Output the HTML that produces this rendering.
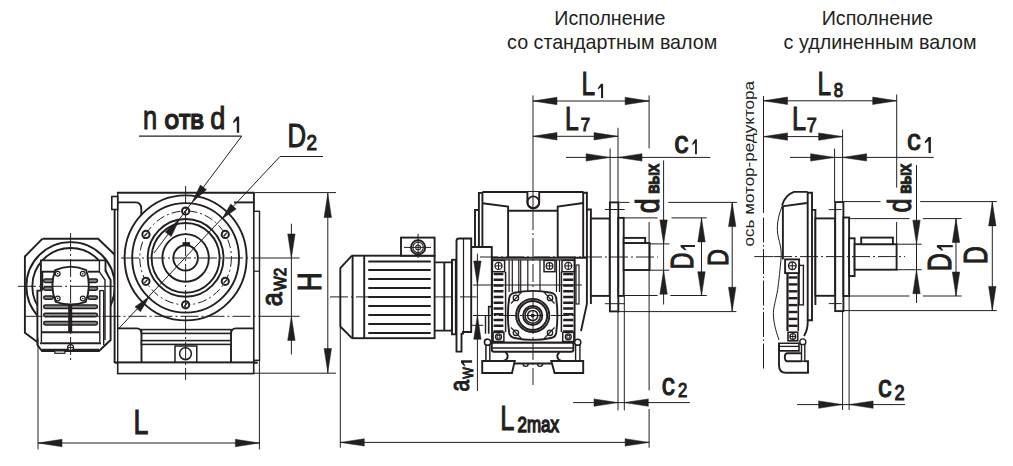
<!DOCTYPE html>
<html><head><meta charset="utf-8"><style>
html,body{margin:0;padding:0;background:#fff;width:1013px;height:466px;overflow:hidden}
svg{position:absolute;left:0;top:0}
text{font-family:"Liberation Sans",sans-serif;fill:#231f20}
</style></head><body>
<svg width="1013" height="466" viewBox="0 0 1013 466" stroke="#231f20" fill="none">
<text transform="translate(554.33,25) scale(0.9828,1)" font-size="20" stroke="none">Исполнение</text>
<text transform="translate(507.11,49.3) scale(0.9839,1)" font-size="20" stroke="none">со стандартным валом</text>
<text transform="translate(821.73,25) scale(0.9837,1)" font-size="20" stroke="none">Исполнение</text>
<text transform="translate(783.61,49.3) scale(0.9866,1)" font-size="20" stroke="none">с удлиненным валом</text>
<circle cx="70.6" cy="286.3" r="44.2" stroke-width="1.9" fill="none" />
<circle cx="70.6" cy="286.3" r="38.3" stroke-width="1.9" fill="none" />
<polyline points="42.5,238.7 98.1,238.7 114.5,254.5" stroke-width="1.9" fill="none" />
<polyline points="42.5,238.7 24.9,256.5 24.9,332.8 40,344" stroke-width="1.9" fill="none" />
<path d="M40.9,260.4 H105.5 V270.9 L110.6,280 V340 L99,351 H42 L37.4,345 V290.6 H40.9 Z" stroke-width="1.9" fill="#fff" />
<line x1="40.9" y1="271.7" x2="54" y2="271.7" stroke-width="1.9" />
<line x1="88" y1="271.7" x2="99.5" y2="271.7" stroke-width="1.9" />
<line x1="42.3" y1="271.7" x2="42.3" y2="290.6" stroke-width="1.9" />
<line x1="103.7" y1="290.6" x2="103.7" y2="345" stroke-width="1.4" />
<line x1="99.5" y1="290.6" x2="103.7" y2="290.6" stroke-width="1.4" />
<rect x="43.7" y="279.1" width="9.5" height="3.4" stroke-width="1.5" fill="#888" rx="1.7" />
<rect x="88" y="279.1" width="9.5" height="3.4" stroke-width="1.5" fill="#888" rx="1.7" />
<rect x="43.7" y="286.8" width="9.5" height="3.4" stroke-width="1.5" fill="#888" rx="1.7" />
<rect x="88" y="286.8" width="9.5" height="3.4" stroke-width="1.5" fill="#888" rx="1.7" />
<rect x="43.7" y="295.9" width="9.5" height="3.4" stroke-width="1.5" fill="#888" rx="1.7" />
<rect x="88" y="295.9" width="9.5" height="3.4" stroke-width="1.5" fill="#888" rx="1.7" />
<rect x="43.7" y="305.1" width="53.7" height="3.4" stroke-width="1.5" fill="#888" rx="1.7" />
<rect x="43.7" y="313.3" width="53.7" height="3.4" stroke-width="1.5" fill="#888" rx="1.7" />
<rect x="43.7" y="321.6" width="53.7" height="3.4" stroke-width="1.5" fill="#888" rx="1.7" />
<line x1="41.4" y1="290.6" x2="41.4" y2="342" stroke-width="1.4" />
<line x1="99.8" y1="290.6" x2="99.8" y2="342" stroke-width="1.4" />
<line x1="42" y1="332.2" x2="99" y2="332.2" stroke-width="1.9" />
<line x1="40" y1="343.3" x2="101" y2="343.3" stroke-width="1.9" />
<line x1="42" y1="349.4" x2="99" y2="349.4" stroke-width="1.2" />
<rect x="54.8" y="350.9" width="10" height="2.4" stroke-width="1.2" fill="#fff" rx="0" />
<circle cx="70.6" cy="347.6" r="3" stroke-width="1.2" fill="#fff" />
<line x1="67.6" y1="347.6" x2="73.6" y2="347.6" stroke-width="1" />
<rect x="68.8" y="304" width="2.8" height="28" stroke-width="1.2" fill="#231f20" rx="0" />
<path d="M55.2,270.2 Q70.7,263 86.3,270.2 Q91.7,286.3 85.7,301.8 Q70.7,307.2 55.7,301.8 Q49.3,286.3 55.2,270.2 Z" stroke-width="1.9" fill="#fff" />
<circle cx="57.7" cy="273.8" r="2.4" stroke-width="1.2" fill="none" />
<circle cx="57.7" cy="273.8" r="0.8" stroke-width="0" fill="#231f20" />
<circle cx="82.8" cy="273.8" r="2.4" stroke-width="1.2" fill="none" />
<circle cx="82.8" cy="273.8" r="0.8" stroke-width="0" fill="#231f20" />
<circle cx="57.7" cy="298.5" r="2.4" stroke-width="1.2" fill="none" />
<circle cx="57.7" cy="298.5" r="0.8" stroke-width="0" fill="#231f20" />
<circle cx="82.8" cy="298.5" r="2.4" stroke-width="1.2" fill="none" />
<circle cx="82.8" cy="298.5" r="0.8" stroke-width="0" fill="#231f20" />
<line x1="70.6" y1="233" x2="70.6" y2="360" stroke-width="1" stroke-dasharray="18,3,2,3"/>
<line x1="18" y1="286.3" x2="124" y2="286.3" stroke-width="1" stroke-dasharray="18,3,2,3"/>
<polyline points="99.4,260.4 99.4,271.8 105,280 105,340" stroke-width="1.4" fill="none" />
<rect x="114.6" y="193" width="143" height="170.5" stroke-width="0" fill="#fff" rx="0" stroke="none"/>
<line x1="116.9" y1="192.7" x2="254.5" y2="192.7" stroke-width="1.9" />
<line x1="114.6" y1="209.5" x2="114.6" y2="363" stroke-width="1.9" />
<line x1="117.7" y1="192.7" x2="117.7" y2="363" stroke-width="1.4" />
<rect x="111.8" y="196.5" width="5.9" height="13" stroke-width="1.6" fill="#fff" rx="0" />
<line x1="253.9" y1="192.7" x2="253.9" y2="363" stroke-width="1.9" />
<rect x="253.9" y="211.3" width="5.6" height="149" stroke-width="1.4" fill="#fff" rx="0" />
<line x1="254" y1="271.2" x2="259.5" y2="271.2" stroke-width="1.2" />
<line x1="234" y1="202.4" x2="253.9" y2="202.4" stroke-width="1.9" />
<path d="M117.7,202.4 H135.5 Q141.3,202.4 141.3,209 V215" stroke-width="1.9" fill="none" />
<g transform="translate(185.6,257.9) scale(1,1.025)">
<circle cx="0" cy="0" r="61" stroke-width="1.9" fill="none" vector-effect="non-scaling-stroke"/>
<circle cx="0" cy="0" r="53.4" stroke-width="1.9" fill="none" vector-effect="non-scaling-stroke"/>
<circle cx="0" cy="0" r="37.9" stroke-width="1.9" fill="none" vector-effect="non-scaling-stroke"/>
<circle cx="0" cy="0" r="34" stroke-width="1.9" fill="none" vector-effect="non-scaling-stroke"/>
<circle cx="0" cy="0" r="23.2" stroke-width="1.9" fill="none" vector-effect="non-scaling-stroke"/>
<circle cx="0" cy="0" r="12.3" stroke-width="1.9" fill="none" vector-effect="non-scaling-stroke"/>
<circle cx="0" cy="0" r="45.8" stroke-width="1" fill="none" stroke-dasharray="9,3,2,3" vector-effect="non-scaling-stroke"/>
</g>
<rect x="183" y="242.7" width="6.6" height="2.6" stroke-width="1" fill="#231f20" rx="0" />
<circle cx="185.6" cy="211" r="3.6" stroke-width="2" fill="#fff" />
<line x1="184" y1="212.8" x2="187.2" y2="209.2" stroke-width="1.4" />
<circle cx="145.94" cy="234.45" r="3.6" stroke-width="2" fill="#fff" />
<line x1="144.34" y1="236.25" x2="147.54" y2="232.65" stroke-width="1.4" />
<circle cx="145.94" cy="281.35" r="3.6" stroke-width="2" fill="#fff" />
<line x1="144.34" y1="283.15" x2="147.54" y2="279.55" stroke-width="1.4" />
<circle cx="185.6" cy="304.8" r="3.6" stroke-width="2" fill="#fff" />
<line x1="184" y1="306.6" x2="187.2" y2="303" stroke-width="1.4" />
<circle cx="225.26" cy="281.35" r="3.6" stroke-width="2" fill="#fff" />
<line x1="223.66" y1="283.15" x2="226.86" y2="279.55" stroke-width="1.4" />
<circle cx="225.26" cy="234.45" r="3.6" stroke-width="2" fill="#fff" />
<line x1="223.66" y1="236.25" x2="226.86" y2="232.65" stroke-width="1.4" />
<path d="M117.7,328.4 H137 Q141.5,328.4 141.5,334 V362.6" stroke-width="1.9" fill="none" />
<path d="M253.9,328.4 H236 Q231,328.4 231,334 V362.6" stroke-width="1.9" fill="none" />
<rect x="141.5" y="329.6" width="89.5" height="3.8" stroke-width="1.6" fill="#fff" rx="0" />
<rect x="141.5" y="340.6" width="89.5" height="3.8" stroke-width="1.6" fill="#fff" rx="0" />
<rect x="175" y="346" width="21.8" height="16.6" stroke-width="1.5" fill="#fff" rx="0" />
<circle cx="185.5" cy="353.7" r="5.9" stroke-width="1.6" fill="#fff" />
<line x1="114.6" y1="362.6" x2="257.7" y2="362.6" stroke-width="2.2" />
<rect x="117.7" y="362.6" width="136" height="11" stroke-width="1.6" fill="#fff" rx="0" />
<line x1="185.6" y1="186" x2="185.6" y2="380" stroke-width="1" stroke-dasharray="18,3,2,3"/>
<line x1="121" y1="258" x2="262" y2="258" stroke-width="1" stroke-dasharray="18,3,2,3"/>
<line x1="262" y1="258" x2="299.6" y2="258" stroke-width="1" />
<line x1="24.5" y1="316.3" x2="262" y2="316.3" stroke-width="1" stroke-dasharray="18,3,2,3"/>
<line x1="262" y1="316.3" x2="299.6" y2="316.3" stroke-width="1" />
<line x1="254.5" y1="192.6" x2="336" y2="192.6" stroke-width="1" />
<line x1="254" y1="373.2" x2="336" y2="373.2" stroke-width="1" />
<line x1="327.8" y1="193" x2="327.8" y2="373" stroke-width="1" />
<polygon points="327.8,193.5 331.5,217.5 324.1,217.5" fill="#231f20" stroke="#231f20" stroke-width="0.5"/>
<polygon points="327.8,372.5 324.1,348.5 331.5,348.5" fill="#231f20" stroke="#231f20" stroke-width="0.5"/>
<text transform="translate(321.35,291.34) rotate(-90) scale(0.796,1)" font-size="32.75" stroke="#231f20" stroke-width="1.1">H</text>
<line x1="291.4" y1="223.7" x2="291.4" y2="354.5" stroke-width="1" />
<polygon points="291.4,258 287.7,234 295.1,234" fill="#231f20" stroke="#231f20" stroke-width="0.5"/>
<polygon points="291.4,316.5 295.1,340.5 287.7,340.5" fill="#231f20" stroke="#231f20" stroke-width="0.5"/>
<text transform="translate(282.06,306.28) rotate(-90) scale(0.852,1)" font-size="29.45" stroke="#231f20" stroke-width="1.1">a</text>
<text transform="translate(285.65,290.73) rotate(-90) scale(0.952,1)" font-size="16.00" stroke="#231f20" stroke-width="1.1">W2</text>
<line x1="38" y1="338" x2="38" y2="449.4" stroke-width="1" />
<line x1="259.4" y1="360" x2="259.4" y2="449.4" stroke-width="1" />
<line x1="38" y1="443" x2="259.4" y2="443" stroke-width="1" />
<polygon points="38,443 62,439.3 62,446.7" fill="#231f20" stroke="#231f20" stroke-width="0.5"/>
<polygon points="259.4,443 235.4,446.7 235.4,439.3" fill="#231f20" stroke="#231f20" stroke-width="0.5"/>
<text transform="translate(133.41,434.15) scale(0.766,1)" font-size="34.93" stroke="#231f20" stroke-width="1.1">L</text>
<line x1="139" y1="136.1" x2="241.7" y2="136.1" stroke-width="1.2" />
<line x1="241.7" y1="136.1" x2="154" y2="253" stroke-width="1" />
<polygon points="192,202.6 200.36,185.12 206.44,189.68" fill="#231f20" stroke="#231f20" stroke-width="0.5"/>
<polygon points="179.6,219 171.24,236.48 165.16,231.92" fill="#231f20" stroke="#231f20" stroke-width="0.5"/>
<text transform="translate(143.00,129.15) scale(0.771,1)" font-size="32.96" stroke="#231f20" stroke-width="1.1">n</text>
<text transform="translate(164.50,128.92) scale(0.825,1)" font-size="22.68" font-weight="bold" stroke="#231f20" stroke-width="1.1">ОТВ</text>
<text transform="translate(210.27,128.83) scale(0.848,1)" font-size="31.97" stroke="#231f20" stroke-width="1.1">d</text>
<polygon points="236.8,116.5 239.2,116.5 239.2,132.7 236.8,132.7 236.8,120.55 233.2,123.14 233.2,121.2" fill="#231f20" stroke="none"/>
<line x1="280" y1="156.5" x2="323" y2="156.5" stroke-width="1.2" />
<line x1="280" y1="156.5" x2="118.9" y2="328.4" stroke-width="1" />
<polygon points="221.9,219 230.77,204.03 236.19,209.07" fill="#231f20" stroke="#231f20" stroke-width="0.5"/>
<polygon points="149.3,296.8 140.43,311.77 135.01,306.73" fill="#231f20" stroke="#231f20" stroke-width="0.5"/>
<text transform="translate(287.49,146.65) scale(0.789,1)" font-size="32.61" stroke="#231f20" stroke-width="1.1">D</text>
<text transform="translate(306.60,149.85) scale(0.882,1)" font-size="21.43" stroke="#231f20" stroke-width="1.1">2</text>
<polyline points="351.9,255.7 340.3,268.1 340.3,326.5 351.9,338.2" stroke-width="1.9" fill="none" />
<rect x="352.6" y="255.7" width="82" height="82.5" stroke-width="1.9" fill="none" rx="0" />
<line x1="364.2" y1="255.7" x2="364.2" y2="338.2" stroke-width="1.9" />
<line x1="369" y1="261.4" x2="430" y2="261.4" stroke-width="2" stroke-linecap="round"/>
<line x1="369" y1="269.9" x2="430" y2="269.9" stroke-width="2" stroke-linecap="round"/>
<line x1="369" y1="278.9" x2="430" y2="278.9" stroke-width="2" stroke-linecap="round"/>
<line x1="369" y1="287.9" x2="430" y2="287.9" stroke-width="2" stroke-linecap="round"/>
<line x1="369" y1="296.9" x2="430" y2="296.9" stroke-width="2" stroke-linecap="round"/>
<line x1="369" y1="305.9" x2="430" y2="305.9" stroke-width="2" stroke-linecap="round"/>
<line x1="369" y1="314.9" x2="430" y2="314.9" stroke-width="2" stroke-linecap="round"/>
<line x1="369" y1="323.9" x2="430" y2="323.9" stroke-width="2" stroke-linecap="round"/>
<line x1="369" y1="332.9" x2="430" y2="332.9" stroke-width="2" stroke-linecap="round"/>
<rect x="401" y="237.6" width="33.6" height="18.1" stroke-width="1.9" fill="#fff" rx="0" />
<circle cx="418.1" cy="247.4" r="7.1" stroke-width="1.9" fill="none" />
<circle cx="418.1" cy="247.4" r="5.2" stroke-width="1.1" fill="none" />
<circle cx="418.1" cy="247.4" r="2.4" stroke-width="1.1" fill="none" />
<line x1="404" y1="247.4" x2="431" y2="247.4" stroke-width="1" />
<line x1="418.1" y1="233.8" x2="418.1" y2="258" stroke-width="1" />
<path d="M434.6,262.4 H452 V330.6 H434.6" stroke-width="1.9" fill="none" />
<line x1="444.3" y1="262.4" x2="444.3" y2="330.6" stroke-width="1.9" />
<rect x="452" y="259.8" width="3.8" height="74.5" stroke-width="1.9" fill="none" rx="0" />
<path d="M456.5,351.6 V241 Q456.5,238.5 459,238.5 H471.2 V332 H463 V333.6 H461.5 V351.6 Z" stroke-width="1.9" fill="#fff" />
<line x1="463.5" y1="238.5" x2="463.5" y2="332" stroke-width="1.2" />
<path d="M471.2,247 H491.8 V315" stroke-width="1.9" fill="none" />
<path d="M471.2,325.3 H483.3" stroke-width="1" fill="none" />
<path d="M492,306.6 H488.7 V333.7" stroke-width="1.6" fill="none" />
<line x1="485.5" y1="315" x2="485.5" y2="333.7" stroke-width="1.4" />
<circle cx="487" cy="341.8" r="2.5" stroke-width="1.5" fill="none" />
<line x1="486.3" y1="344.3" x2="486.3" y2="361" stroke-width="1.5" />
<line x1="489.3" y1="344.3" x2="489.3" y2="361" stroke-width="1.5" />
<path d="M475,246 V210 H478.9" stroke-width="1.9" fill="none" />
<path d="M478.9,247 V192.9 H482.4" stroke-width="1.9" fill="none" />
<line x1="482.4" y1="192" x2="482.4" y2="247" stroke-width="1.9" />
<line x1="482.4" y1="192" x2="583.5" y2="192" stroke-width="1.9" />
<line x1="583.2" y1="192" x2="583.2" y2="258" stroke-width="1.9" />
<path d="M583.2,192.7 H586.9 V304 L581,331" stroke-width="1.9" fill="none" />
<path d="M586.9,209.5 H590.9 V304" stroke-width="1.9" fill="none" />
<path d="M482.4,203.2 L508.1,206.6 V257.5" stroke-width="1.9" fill="none" />
<path d="M583.2,203 L557.7,206.5 V257.5" stroke-width="1.9" fill="none" />
<line x1="508.1" y1="210.8" x2="557.7" y2="210.8" stroke-width="1.9" />
<path d="M527.4,192 V202.3 A5.9,5.9 0 0 0 539.2,202.3 V192" stroke-width="1.9" fill="#fff" />
<circle cx="533.3" cy="202.3" r="5.9" stroke-width="1.9" fill="none" />
<line x1="492" y1="257.8" x2="586.9" y2="257.8" stroke-width="2" />
<line x1="491.7" y1="259.8" x2="574.6" y2="259.8" stroke-width="1.2" />
<rect x="492.4" y="260.4" width="12.2" height="11.3" stroke-width="1.5" fill="#fff" rx="0" />
<circle cx="498.5" cy="265.9" r="3.5" stroke-width="1.3" fill="none" />
<line x1="495" y1="265.9" x2="502" y2="265.9" stroke-width="1" />
<line x1="498.5" y1="262.4" x2="498.5" y2="269.4" stroke-width="1" />
<line x1="505.6" y1="271.7" x2="505.6" y2="332" stroke-width="1.5" />
<line x1="493.6" y1="274" x2="503.4" y2="274" stroke-width="2.5" />
<line x1="493.6" y1="279.75" x2="503.4" y2="279.75" stroke-width="2.5" />
<line x1="493.6" y1="285.5" x2="503.4" y2="285.5" stroke-width="2.5" />
<line x1="493.6" y1="291.25" x2="503.4" y2="291.25" stroke-width="2.5" />
<line x1="493.6" y1="297" x2="503.4" y2="297" stroke-width="2.5" />
<line x1="493.6" y1="302.75" x2="503.4" y2="302.75" stroke-width="2.5" />
<line x1="493.6" y1="308.5" x2="503.4" y2="308.5" stroke-width="2.5" />
<line x1="493.6" y1="314.25" x2="503.4" y2="314.25" stroke-width="2.5" />
<line x1="493.6" y1="320" x2="503.4" y2="320" stroke-width="2.5" />
<line x1="493.6" y1="325.75" x2="503.4" y2="325.75" stroke-width="2.5" />
<line x1="493.6" y1="331.5" x2="503.4" y2="331.5" stroke-width="2.5" />
<rect x="493.1" y="332.4" width="10.8" height="9.1" stroke-width="1.5" fill="#fff" rx="0" />
<circle cx="498.5" cy="336.8" r="3" stroke-width="1.3" fill="none" />
<rect x="497.1" y="335.4" width="2.8" height="2.8" stroke-width="1" fill="none" rx="0" />
<rect x="562" y="260.4" width="12.6" height="11.3" stroke-width="1.5" fill="#fff" rx="0" />
<circle cx="568.3" cy="265.9" r="3.5" stroke-width="1.3" fill="none" />
<line x1="564.8" y1="265.9" x2="571.8" y2="265.9" stroke-width="1" />
<line x1="568.3" y1="262.4" x2="568.3" y2="269.4" stroke-width="1" />
<line x1="561.4" y1="271.7" x2="561.4" y2="332" stroke-width="1.5" />
<line x1="563.2" y1="274" x2="573.4" y2="274" stroke-width="2.5" />
<line x1="563.2" y1="279.75" x2="573.4" y2="279.75" stroke-width="2.5" />
<line x1="563.2" y1="285.5" x2="573.4" y2="285.5" stroke-width="2.5" />
<line x1="563.2" y1="291.25" x2="573.4" y2="291.25" stroke-width="2.5" />
<line x1="563.2" y1="297" x2="573.4" y2="297" stroke-width="2.5" />
<line x1="563.2" y1="302.75" x2="573.4" y2="302.75" stroke-width="2.5" />
<line x1="563.2" y1="308.5" x2="573.4" y2="308.5" stroke-width="2.5" />
<line x1="563.2" y1="314.25" x2="573.4" y2="314.25" stroke-width="2.5" />
<line x1="563.2" y1="320" x2="573.4" y2="320" stroke-width="2.5" />
<line x1="563.2" y1="325.75" x2="573.4" y2="325.75" stroke-width="2.5" />
<line x1="563.2" y1="331.5" x2="573.4" y2="331.5" stroke-width="2.5" />
<rect x="562.7" y="332.4" width="11.2" height="9.1" stroke-width="1.5" fill="#fff" rx="0" />
<circle cx="568.3" cy="336.8" r="3" stroke-width="1.3" fill="none" />
<rect x="566.9" y="335.4" width="2.8" height="2.8" stroke-width="1" fill="none" rx="0" />
<rect x="576" y="265" width="3" height="39" stroke-width="1.2" fill="none" rx="0" />
<line x1="492" y1="258" x2="492" y2="342" stroke-width="1.9" />
<line x1="574.6" y1="258" x2="574.6" y2="342" stroke-width="1.9" />
<rect x="544" y="260.4" width="11" height="11.3" stroke-width="1.5" fill="#fff" rx="0" />
<circle cx="549.5" cy="265.9" r="3.3" stroke-width="1.3" fill="none" />
<line x1="546.2" y1="265.9" x2="552.8" y2="265.9" stroke-width="1" />
<line x1="549.5" y1="262.6" x2="549.5" y2="269.2" stroke-width="1" />
<line x1="509.1" y1="260" x2="509.1" y2="292" stroke-width="1.2" />
<line x1="512.3" y1="260" x2="512.3" y2="292" stroke-width="1.2" />
<line x1="518.8" y1="260" x2="518.8" y2="292" stroke-width="1.2" />
<line x1="520.7" y1="260" x2="520.7" y2="292" stroke-width="1.2" />
<line x1="527.8" y1="260" x2="527.8" y2="292" stroke-width="1.2" />
<line x1="540" y1="260" x2="540" y2="292" stroke-width="1.2" />
<line x1="556.5" y1="260" x2="556.5" y2="292" stroke-width="1.2" />
<line x1="559.5" y1="260" x2="559.5" y2="292" stroke-width="1.2" />
<path d="M514.6,292.7 Q532.6,289 551,292.7 Q555.5,293.8 556.2,298 Q558.6,315.5 556.2,333 Q555.5,337.2 551,338 Q532.6,341.8 514.6,338 Q510,337.2 509.2,333 Q506.6,315.5 509.2,298 Q510,293.8 514.6,292.7 Z" stroke-width="1.9" fill="#fff" />
<circle cx="515.9" cy="297.9" r="2.7" stroke-width="1.3" fill="none" />
<circle cx="550" cy="297.9" r="2.7" stroke-width="1.3" fill="none" />
<circle cx="515.9" cy="332.8" r="2.7" stroke-width="1.3" fill="none" />
<circle cx="550" cy="332.8" r="2.7" stroke-width="1.3" fill="none" />
<line x1="511" y1="303.5" x2="521.5" y2="292.2" stroke-width="1.2" />
<line x1="554.5" y1="303.5" x2="544" y2="292.2" stroke-width="1.2" />
<line x1="511" y1="327.5" x2="521.5" y2="338.6" stroke-width="1.2" />
<line x1="554.5" y1="327.5" x2="544" y2="338.6" stroke-width="1.2" />
<circle cx="532.7" cy="315.5" r="16.6" stroke-width="1.9" fill="#fff" />
<circle cx="532.7" cy="315.5" r="14.5" stroke-width="1.9" fill="none" />
<circle cx="532.7" cy="315.5" r="9.6" stroke-width="1.9" fill="none" />
<circle cx="532.7" cy="315.5" r="7.7" stroke-width="1.5" fill="none" />
<circle cx="532.7" cy="315.5" r="5.1" stroke-width="1.5" fill="none" />
<circle cx="532.7" cy="315.5" r="2" stroke-width="0" fill="#231f20" />
<path d="M490.9,342.6 H573.4 V349.5 Q573.4,351.8 571,351.8 H494 Q491.8,351.8 491.8,349.5 V342.6" stroke-width="1.9" fill="#fff" />
<line x1="491.8" y1="348" x2="573.4" y2="348" stroke-width="1.5" />
<line x1="491.8" y1="342.6" x2="573.4" y2="342.6" stroke-width="1.9" />
<circle cx="487.6" cy="342.3" r="3.1" stroke-width="1.5" fill="#fff" />
<circle cx="577.7" cy="342.3" r="3.1" stroke-width="1.5" fill="#fff" />
<rect x="486" y="345.3" width="3.8" height="15.7" stroke-width="1.4" fill="#fff" rx="0" />
<rect x="575.6" y="345.3" width="4.3" height="15.7" stroke-width="1.4" fill="#fff" rx="0" />
<path d="M505.5,352.2 C508.7,354.5 508.7,359.5 503.5,361 H491" stroke-width="1.9" fill="none" />
<path d="M559.5,352.2 C556.3,354.5 556.3,359.5 561.5,361 H575.6" stroke-width="1.9" fill="none" />
<polygon points="482.2,361 514.8,361 512,373 482.2,373" stroke-width="1.9" fill="#fff" />
<polygon points="551.3,361 583.2,361 583.2,373 554.6,373" stroke-width="1.9" fill="#fff" />
<line x1="514.5" y1="363.5" x2="551.6" y2="363.5" stroke-width="1.9" />
<path d="M523,363.8 A2.6,2.6 0 0 0 528.2,363.8 M537.5,363.8 A2.6,2.6 0 0 0 542.7,363.8" stroke-width="1.4" fill="none" />
<line x1="533" y1="95.4" x2="533" y2="211" stroke-width="1" />
<line x1="533" y1="212" x2="533" y2="385" stroke-width="1" stroke-dasharray="18,3,2,3"/>
<line x1="330" y1="296.9" x2="476.6" y2="296.9" stroke-width="1" stroke-dasharray="18,3,2,3"/>
<line x1="473" y1="315.5" x2="575" y2="315.5" stroke-width="1" stroke-dasharray="18,3,2,3"/>
<rect x="590.9" y="218.5" width="18.8" height="77.4" stroke-width="1.9" fill="#fff" rx="0" />
<rect x="609.9" y="202.4" width="8.4" height="109" stroke-width="1.9" fill="#fff" rx="0" />
<rect x="618.3" y="217.9" width="5.4" height="78" stroke-width="1.9" fill="#fff" rx="0" />
<rect x="623.7" y="243" width="25.9" height="27" stroke-width="1.9" fill="#fff" rx="0" />
<rect x="623.7" y="237.9" width="21.5" height="5.1" stroke-width="1.9" fill="#fff" rx="0" />
<line x1="604.9" y1="209.5" x2="624.7" y2="209.5" stroke-width="1" />
<line x1="604.9" y1="303.7" x2="624.7" y2="303.7" stroke-width="1" />
<line x1="480" y1="257" x2="658" y2="257" stroke-width="1" stroke-dasharray="18,3,2,3"/>
<line x1="649.1" y1="95.4" x2="649.1" y2="148.4" stroke-width="1" />
<line x1="533" y1="101" x2="649.1" y2="101" stroke-width="1" />
<polygon points="533,101 557,97.3 557,104.7" fill="#231f20" stroke="#231f20" stroke-width="0.5"/>
<polygon points="649.1,101 625.1,104.7 625.1,97.3" fill="#231f20" stroke="#231f20" stroke-width="0.5"/>
<text transform="translate(581.49,95.25) scale(0.719,1)" font-size="34.06" stroke="#231f20" stroke-width="1.1">L</text>
<polygon points="601.02,83.8 603.1,83.8 603.1,98 601.02,98 601.02,87.35 597.9,89.62 597.9,87.92" fill="#231f20" stroke="none"/>
<line x1="618" y1="127.8" x2="618" y2="202" stroke-width="1" />
<line x1="533" y1="136.3" x2="618" y2="136.3" stroke-width="1" />
<polygon points="533,136.3 557,132.6 557,140" fill="#231f20" stroke="#231f20" stroke-width="0.5"/>
<polygon points="618,136.3 594,140 594,132.6" fill="#231f20" stroke="#231f20" stroke-width="0.5"/>
<text transform="translate(565.07,130.25) scale(0.758,1)" font-size="32.61" stroke="#231f20" stroke-width="1.1">L</text>
<text transform="translate(580.71,131.45) scale(0.887,1)" font-size="18.84" stroke="#231f20" stroke-width="1.1">7</text>
<line x1="610.1" y1="148.4" x2="610.1" y2="202" stroke-width="1" />
<line x1="566" y1="157.4" x2="710.4" y2="157.4" stroke-width="1" />
<polygon points="610.1,157.4 586.1,161.1 586.1,153.7" fill="#231f20" stroke="#231f20" stroke-width="0.5"/>
<polygon points="618,157.4 642,153.7 642,161.1" fill="#231f20" stroke="#231f20" stroke-width="0.5"/>
<text transform="translate(674.16,152.93) scale(0.894,1)" font-size="32.00" stroke="#231f20" stroke-width="1.1">c</text>
<polygon points="695.06,139.2 696.9,139.2 696.9,154.2 695.06,154.2 695.06,142.95 692.3,145.35 692.3,143.55" fill="#231f20" stroke="none"/>
<line x1="618" y1="312" x2="618" y2="410.4" stroke-width="1" />
<line x1="624.3" y1="296" x2="624.3" y2="410.4" stroke-width="1" />
<line x1="573.1" y1="402.6" x2="689.9" y2="402.6" stroke-width="1" />
<polygon points="618,402.6 594,406.3 594,398.9" fill="#231f20" stroke="#231f20" stroke-width="0.5"/>
<polygon points="624.3,402.6 648.3,398.9 648.3,406.3" fill="#231f20" stroke="#231f20" stroke-width="0.5"/>
<text transform="translate(661.67,395.34) scale(0.845,1)" font-size="31.09" stroke="#231f20" stroke-width="1.1">c</text>
<text transform="translate(677.91,397.45) scale(0.790,1)" font-size="21.14" stroke="#231f20" stroke-width="1.1">2</text>
<line x1="340.3" y1="327" x2="340.3" y2="447.7" stroke-width="1" />
<line x1="649.1" y1="222" x2="649.1" y2="390.4" stroke-width="1" />
<line x1="649.1" y1="409" x2="649.1" y2="447.7" stroke-width="1" />
<line x1="340.3" y1="442.4" x2="649.1" y2="442.4" stroke-width="1" />
<polygon points="340.3,442.4 364.3,438.7 364.3,446.1" fill="#231f20" stroke="#231f20" stroke-width="0.5"/>
<polygon points="649.1,442.4 625.1,446.1 625.1,438.7" fill="#231f20" stroke="#231f20" stroke-width="0.5"/>
<text transform="translate(500.32,430.45) scale(0.730,1)" font-size="34.78" stroke="#231f20" stroke-width="1.1">L</text>
<text transform="translate(517.60,431.82) scale(0.738,1)" font-size="22.96" stroke="#231f20" stroke-width="1.5">2max</text>
<line x1="477.4" y1="253.7" x2="477.4" y2="391" stroke-width="1" />
<polygon points="477.4,285 473.7,261 481.1,261" fill="#231f20" stroke="#231f20" stroke-width="0.5"/>
<polygon points="477.4,315.3 481.1,339.3 473.7,339.3" fill="#231f20" stroke="#231f20" stroke-width="0.5"/>
<line x1="473" y1="285" x2="582" y2="285" stroke-width="1" />
<text transform="translate(468.97,391.39) rotate(-90) scale(0.749,1)" font-size="28.00" stroke="#231f20" stroke-width="1.1">a</text>
<text transform="translate(472.75,378.71) rotate(-90) scale(0.779,1)" font-size="15.51" stroke="#231f20" stroke-width="1.1">W</text>
<polygon points="461,362.66 461,360.3 472.1,360.3 472.1,362.66 463.77,362.66 465.55,366.2 464.22,366.2" fill="#231f20" stroke="none"/>
<line x1="649.6" y1="243.9" x2="669.3" y2="243.9" stroke-width="1" />
<line x1="649.6" y1="270.2" x2="669.3" y2="270.2" stroke-width="1" />
<line x1="663.6" y1="160.4" x2="663.6" y2="304.5" stroke-width="1" />
<polygon points="663.6,243.9 659.9,219.9 667.3,219.9" fill="#231f20" stroke="#231f20" stroke-width="0.5"/>
<polygon points="663.6,270.2 667.3,294.2 659.9,294.2" fill="#231f20" stroke="#231f20" stroke-width="0.5"/>
<text transform="translate(659.12,213.33) rotate(-90) scale(0.823,1)" font-size="32.65" stroke="#231f20" stroke-width="1.1">d</text>
<text transform="translate(659.45,193.57) rotate(-90) scale(0.859,1)" font-size="14.64" font-weight="bold" stroke="#231f20" stroke-width="1.1">ВЫХ</text>
<line x1="623.7" y1="217.9" x2="657.6" y2="217.9" stroke-width="1" />
<line x1="671.5" y1="217.9" x2="706.8" y2="217.9" stroke-width="1" />
<line x1="623.7" y1="295.5" x2="657.6" y2="295.5" stroke-width="1" />
<line x1="670.4" y1="295.5" x2="706.8" y2="295.5" stroke-width="1" />
<line x1="701.5" y1="217.9" x2="701.5" y2="295.7" stroke-width="1" />
<polygon points="701.5,217.9 705.2,241.9 697.8,241.9" fill="#231f20" stroke="#231f20" stroke-width="0.5"/>
<polygon points="701.5,295.7 697.8,271.7 705.2,271.7" fill="#231f20" stroke="#231f20" stroke-width="0.5"/>
<text transform="translate(692.95,269.19) rotate(-90) scale(0.757,1)" font-size="30.43" stroke="#231f20" stroke-width="1.1">D</text>
<polygon points="680.6,247.02 680.6,244.9 695,244.9 695,247.02 684.2,247.02 686.5,250.2 684.78,250.2" fill="#231f20" stroke="none"/>
<line x1="618.4" y1="202.4" x2="629.3" y2="202.4" stroke-width="1" />
<line x1="668.3" y1="202.4" x2="736.9" y2="202.4" stroke-width="1" />
<line x1="618.4" y1="311.6" x2="736.4" y2="311.6" stroke-width="1" />
<line x1="732.2" y1="202.4" x2="732.2" y2="311.4" stroke-width="1" />
<polygon points="732.2,202.6 735.9,226.6 728.5,226.6" fill="#231f20" stroke="#231f20" stroke-width="0.5"/>
<polygon points="732.2,311.2 728.5,287.2 735.9,287.2" fill="#231f20" stroke="#231f20" stroke-width="0.5"/>
<text transform="translate(728.35,266.02) rotate(-90) scale(0.790,1)" font-size="29.57" stroke="#231f20" stroke-width="1.1">D</text>
<path d="M782,205.5 Q785,195 794,191.9 H807.7" stroke-width="1.9" fill="none" />
<path d="M807.7,191.9 V322 Q807.7,330 804,336" stroke-width="1.9" fill="none" />
<path d="M807.7,192.7 H812 V320.3 H806.9" stroke-width="1.9" fill="none" />
<path d="M812,209.9 H815.4 V305" stroke-width="1.9" fill="none" />
<line x1="782" y1="206.4" x2="806.9" y2="203" stroke-width="1.9" />
<line x1="782.9" y1="206.4" x2="782.9" y2="259.4" stroke-width="1.9" />
<path d="M782,206.4 C776,222 776.5,232 779.4,241.6 C781,248 781.5,252 781.1,258 C780,270 779,280 777.7,289.4 C776,300 773,308 773.4,315.1 C774,326 777,334 779,340" stroke-width="1" fill="none" />
<rect x="785.1" y="259.4" width="14" height="13.7" stroke-width="1.9" fill="#fff" rx="0" />
<circle cx="792.3" cy="265.8" r="3.8" stroke-width="1.4" fill="none" />
<line x1="788.5" y1="265.8" x2="796.1" y2="265.8" stroke-width="1.1" />
<line x1="792.3" y1="262" x2="792.3" y2="269.6" stroke-width="1.1" />
<line x1="787.5" y1="273.1" x2="787.5" y2="331" stroke-width="2.2" />
<line x1="798.3" y1="273.1" x2="798.3" y2="331" stroke-width="1.6" />
<line x1="788.5" y1="277.5" x2="797.5" y2="277.5" stroke-width="2.4" />
<line x1="788.5" y1="284.4" x2="797.5" y2="284.4" stroke-width="2.4" />
<line x1="788.5" y1="291.3" x2="797.5" y2="291.3" stroke-width="2.4" />
<line x1="788.5" y1="298.2" x2="797.5" y2="298.2" stroke-width="2.4" />
<line x1="788.5" y1="305.1" x2="797.5" y2="305.1" stroke-width="2.4" />
<line x1="788.5" y1="312" x2="797.5" y2="312" stroke-width="2.4" />
<line x1="788.5" y1="318.9" x2="797.5" y2="318.9" stroke-width="2.4" />
<line x1="788.5" y1="325.8" x2="797.5" y2="325.8" stroke-width="2.4" />
<rect x="788" y="332.2" width="9.7" height="8.6" stroke-width="1.6" fill="#fff" rx="0" />
<circle cx="792.8" cy="336.5" r="2.9" stroke-width="1.3" fill="none" />
<line x1="790" y1="336.5" x2="795.6" y2="336.5" stroke-width="1" />
<line x1="792.8" y1="333.7" x2="792.8" y2="339.3" stroke-width="1" />
<rect x="799.1" y="265.4" width="4.3" height="39.5" stroke-width="1.4" fill="none" rx="0" />
<path d="M779,343.2 H799 V350.9 H779 Z" stroke-width="1.6" fill="#fff" />
<line x1="779" y1="346.4" x2="799" y2="346.4" stroke-width="1.3" />
<circle cx="802.8" cy="341.9" r="3" stroke-width="1.4" fill="#fff" />
<rect x="801.5" y="344.5" width="3.3" height="16.7" stroke-width="1.4" fill="#fff" rx="0" />
<path d="M800.9,353.2 H787.5 Q784.8,353.2 784.8,357.2 Q784.8,361.2 787.5,361.2 H801.5" stroke-width="1.9" fill="none" />
<path d="M779,343 V365 Q779,372.8 786,372.8 H808 V361.2 H804.8" stroke-width="1.9" fill="none" />
<rect x="815.4" y="218.4" width="19.8" height="77.4" stroke-width="1.9" fill="#fff" rx="0" />
<rect x="835.2" y="202.1" width="8.2" height="109" stroke-width="1.9" fill="#fff" rx="0" />
<rect x="843.4" y="217.5" width="5.7" height="78.5" stroke-width="1.9" fill="#fff" rx="0" />
<rect x="849.1" y="238.3" width="5.5" height="37.7" stroke-width="1.9" fill="#fff" rx="0" />
<rect x="854.6" y="244.2" width="42" height="25.5" stroke-width="1.9" fill="#fff" rx="0" />
<rect x="861.2" y="237.6" width="31.7" height="6.6" stroke-width="1.9" fill="#fff" rx="0" />
<line x1="828.8" y1="209.6" x2="841.7" y2="209.6" stroke-width="1" />
<line x1="828.8" y1="303.6" x2="841.7" y2="303.6" stroke-width="1" />
<line x1="774" y1="256.6" x2="905" y2="256.6" stroke-width="1" stroke-dasharray="18,3,2,3"/>
<line x1="763.5" y1="96" x2="763.5" y2="213" stroke-width="1" />
<line x1="763.5" y1="217.5" x2="763.5" y2="370" stroke-width="1" stroke-dasharray="25,2.5,1.5,2.5"/>
<line x1="754.3" y1="256.6" x2="773.6" y2="256.6" stroke-width="1" />
<text transform="translate(753.65,246.38) rotate(-90) scale(1.102,1)" font-size="15.47" stroke="none">ось мотор-редуктора</text>
<line x1="896.7" y1="94.5" x2="896.7" y2="187.7" stroke-width="1" />
<line x1="896.6" y1="222" x2="896.6" y2="244.2" stroke-width="1" />
<line x1="763.5" y1="100.8" x2="896.7" y2="100.8" stroke-width="1" />
<polygon points="763.5,100.8 787.5,97.1 787.5,104.5" fill="#231f20" stroke="#231f20" stroke-width="0.5"/>
<polygon points="896.7,100.8 872.7,104.5 872.7,97.1" fill="#231f20" stroke="#231f20" stroke-width="0.5"/>
<text transform="translate(817.59,94.95) scale(0.722,1)" font-size="33.91" stroke="#231f20" stroke-width="1.1">L</text>
<text transform="translate(833.79,97.25) scale(0.835,1)" font-size="20.14" stroke="#231f20" stroke-width="1.1">8</text>
<line x1="842.6" y1="129.7" x2="842.6" y2="202" stroke-width="1" />
<line x1="763.5" y1="136.6" x2="842.6" y2="136.6" stroke-width="1" />
<polygon points="763.5,136.6 787.5,132.9 787.5,140.3" fill="#231f20" stroke="#231f20" stroke-width="0.5"/>
<polygon points="842.6,136.6 818.6,140.3 818.6,132.9" fill="#231f20" stroke="#231f20" stroke-width="0.5"/>
<text transform="translate(792.12,130.35) scale(0.749,1)" font-size="33.91" stroke="#231f20" stroke-width="1.1">L</text>
<text transform="translate(806.65,132.45) scale(0.870,1)" font-size="20.72" stroke="#231f20" stroke-width="1.1">7</text>
<line x1="834.6" y1="148.6" x2="834.6" y2="202" stroke-width="1" />
<line x1="790" y1="157.4" x2="933.7" y2="157.4" stroke-width="1" />
<polygon points="834.6,157.4 810.6,161.1 810.6,153.7" fill="#231f20" stroke="#231f20" stroke-width="0.5"/>
<polygon points="842.6,157.4 866.6,153.7 866.6,161.1" fill="#231f20" stroke="#231f20" stroke-width="0.5"/>
<text transform="translate(907.02,149.95) scale(0.915,1)" font-size="30.00" stroke="#231f20" stroke-width="1.1">c</text>
<polygon points="928.5,137 930.9,137 930.9,152.9 928.5,152.9 928.5,140.97 924.9,143.52 924.9,141.61" fill="#231f20" stroke="none"/>
<line x1="842.6" y1="311" x2="842.6" y2="410" stroke-width="1" />
<line x1="849.1" y1="296" x2="849.1" y2="410" stroke-width="1" />
<line x1="797" y1="404.6" x2="905" y2="404.6" stroke-width="1" />
<polygon points="842.6,404.6 818.6,408.3 818.6,400.9" fill="#231f20" stroke="#231f20" stroke-width="0.5"/>
<polygon points="849.1,404.6 873.1,400.9 873.1,408.3" fill="#231f20" stroke="#231f20" stroke-width="0.5"/>
<text transform="translate(877.92,397.04) scale(0.893,1)" font-size="30.73" stroke="#231f20" stroke-width="1.1">c</text>
<text transform="translate(894.54,399.95) scale(0.840,1)" font-size="21.71" stroke="#231f20" stroke-width="1.1">2</text>
<line x1="896.6" y1="244.2" x2="921.6" y2="244.2" stroke-width="1" />
<line x1="896.6" y1="269.7" x2="921.6" y2="269.7" stroke-width="1" />
<line x1="916.5" y1="165" x2="916.5" y2="303" stroke-width="1" />
<polygon points="916.5,244.2 912.8,220.2 920.2,220.2" fill="#231f20" stroke="#231f20" stroke-width="0.5"/>
<polygon points="916.5,269.7 920.2,293.7 912.8,293.7" fill="#231f20" stroke="#231f20" stroke-width="0.5"/>
<text transform="translate(911.12,212.56) rotate(-90) scale(0.779,1)" font-size="32.52" stroke="#231f20" stroke-width="1.1">d</text>
<text transform="translate(911.45,193.57) rotate(-90) scale(0.868,1)" font-size="14.49" font-weight="bold" stroke="#231f20" stroke-width="1.1">ВЫХ</text>
<line x1="849.5" y1="218.6" x2="909.5" y2="218.6" stroke-width="1" />
<line x1="922.9" y1="218.6" x2="961.6" y2="218.6" stroke-width="1" />
<line x1="849.5" y1="296" x2="909.5" y2="296" stroke-width="1" />
<line x1="922.9" y1="296" x2="961.6" y2="296" stroke-width="1" />
<line x1="956" y1="218.6" x2="956" y2="296" stroke-width="1" />
<polygon points="956,218.6 959.7,242.6 952.3,242.6" fill="#231f20" stroke="#231f20" stroke-width="0.5"/>
<polygon points="956,296 952.3,272 959.7,272" fill="#231f20" stroke="#231f20" stroke-width="0.5"/>
<text transform="translate(950.75,271.35) rotate(-90) scale(0.755,1)" font-size="33.19" stroke="#231f20" stroke-width="1.1">D</text>
<polygon points="936.9,247.22 936.9,245.1 952.8,245.1 952.8,247.22 940.88,247.22 943.42,250.4 941.51,250.4" fill="#231f20" stroke="none"/>
<line x1="843.4" y1="201.6" x2="880.6" y2="201.6" stroke-width="1" />
<line x1="920.2" y1="201.6" x2="996.8" y2="201.6" stroke-width="1" />
<line x1="843.4" y1="310.6" x2="996.8" y2="310.6" stroke-width="1" />
<line x1="992.3" y1="201.7" x2="992.3" y2="310.6" stroke-width="1" />
<polygon points="992.3,201.9 996,225.9 988.6,225.9" fill="#231f20" stroke="#231f20" stroke-width="0.5"/>
<polygon points="992.3,310.4 988.6,286.4 996,286.4" fill="#231f20" stroke="#231f20" stroke-width="0.5"/>
<text transform="translate(987.35,264.25) rotate(-90) scale(0.768,1)" font-size="32.61" stroke="#231f20" stroke-width="1.1">D</text>
</svg></body></html>
